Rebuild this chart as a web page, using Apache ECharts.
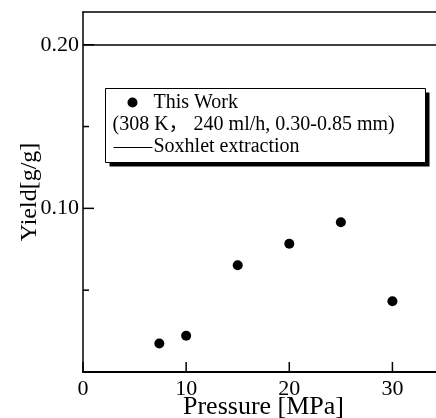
<!DOCTYPE html>
<html>
<head>
<meta charset="utf-8">
<script src="https://cdn.jsdelivr.net/npm/echarts@6/dist/echarts.min.js"></script>
<style>
  html, body { margin: 0; padding: 0; background: #fff; }
  #yield-chart { width: 436px; height: 418px; }
</style>
</head>
<body>
<div id="yield-chart"></div>
<script>
// pressure [MPa] / yield [g/g]
var pressure = [7.4, 10, 15, 20, 25, 30];
var yieldValue = [0.0174, 0.0222, 0.0652, 0.0784, 0.0915, 0.0432];
var soxhletYield = 0.198;
var xTicks = [0, 10, 20, 30];
var yTicks = [0.10, 0.20];
var yMinorTicks = [0.05, 0.15];

var serif = "'Liberation Serif', 'Times New Roman', serif";
var legendFont = "20px 'Liberation Serif', 'Noto Sans CJK SC', serif";

var chart = echarts.init(document.getElementById('yield-chart'));

var points = pressure.map(function (p, i) { return [p, yieldValue[i]]; });

var option = {
  backgroundColor: '#fff',
  animation: false,
  grid: {
    left: 83,
    top: 12,
    right: -8,
    bottom: 46,
    show: false,
    outerBoundsMode: 'none'
  },
  xAxis: [{
    type: 'value',
    min: 0,
    max: 35,
    name: 'Pressure [MPa]',
    nameLocation: 'middle',
    nameGap: 22,
    nameMoveOverlap: false,
    nameTextStyle: { fontFamily: serif, fontSize: 26, color: '#000' },
    axisLine: { show: true, onZero: false, lineStyle: { color: '#000', width: 2 } },
    axisTick: { show: false },
    axisLabel: {
      fontFamily: serif, fontSize: 22, color: '#000', margin: 6,
      customValues: xTicks
    },
    splitLine: { show: false }
  }, {
    // top frame line
    type: 'value',
    min: 0,
    max: 35,
    position: 'top',
    axisLine: { show: true, onZero: false, lineStyle: { color: '#000', width: 1.5 } },
    axisTick: { show: false },
    axisLabel: { show: false },
    splitLine: { show: false }
  }],
  yAxis: {
    type: 'value',
    min: 0,
    max: 0.22,
    name: 'Yield[g/g]',
    nameLocation: 'middle',
    nameGap: 41,
    nameMoveOverlap: false,
    nameTextStyle: { fontFamily: serif, fontSize: 24, color: '#000' },
    axisLine: { show: true, onZero: false, lineStyle: { color: '#000', width: 1.5 } },
    axisTick: { show: false },
    axisLabel: {
      fontFamily: serif, fontSize: 22, color: '#000', margin: 4,
      customValues: yTicks,
      formatter: function (v) { return v.toFixed(2); }
    },
    splitLine: { show: false }
  },
  series: [{
    name: 'This Work',
    type: 'scatter',
    data: points,
    symbol: 'circle',
    symbolSize: 10,
    itemStyle: { color: '#000', opacity: 1 },
    silent: true
  }, {
    name: 'Soxhlet extraction',
    type: 'line',
    data: [],
    markLine: {
      silent: true,
      symbol: 'none',
      label: { show: false },
      lineStyle: { color: '#000', width: 1.5, type: 'solid' },
      data: [{ yAxis: soxhletYield }]
    }
  }]
};

chart.setOption(option);

// inward ticks, placed through the axis scales
function drawTicks() {
  var x0 = chart.convertToPixel({ xAxisIndex: 0 }, 0);
  var y0 = chart.convertToPixel({ yAxisIndex: 0 }, 0);
  var els = [];
  xTicks.forEach(function (v) {
    var px = chart.convertToPixel({ xAxisIndex: 0 }, v);
    els.push({ type: 'line', shape: { x1: px, y1: y0, x2: px, y2: y0 - 10 }, style: { stroke: '#000', lineWidth: 1.5 }, silent: true });
  });
  yTicks.forEach(function (v) {
    var py = chart.convertToPixel({ yAxisIndex: 0 }, v);
    els.push({ type: 'line', shape: { x1: x0, y1: py, x2: x0 + 11, y2: py }, style: { stroke: '#000', lineWidth: 1.5 }, silent: true });
  });
  yMinorTicks.forEach(function (v) {
    var py = chart.convertToPixel({ yAxisIndex: 0 }, v);
    els.push({ type: 'line', shape: { x1: x0, y1: py, x2: x0 + 6, y2: py }, style: { stroke: '#000', lineWidth: 1.5 }, silent: true });
  });
  return els;
}

var legendBox = {
  type: 'group',
  left: 105,
  top: 88,
  children: [
    { type: 'rect', shape: { x: 4, y: 4, width: 320, height: 74 }, style: { fill: '#000' } },
    { type: 'rect', shape: { x: 0, y: 0, width: 320, height: 74 }, style: { fill: '#fff', stroke: '#000', lineWidth: 1 } },
    { type: 'circle', shape: { cx: 27, cy: 14, r: 5 }, style: { fill: '#000' } },
    { type: 'text', x: 48, y: 14, style: { text: 'This Work', font: legendFont, fill: '#000', verticalAlign: 'middle' } },
    { type: 'text', x: 7, y: 36, style: { text: '(308 K， 240 ml/h, 0.30-0.85 mm)', font: legendFont, fill: '#000', verticalAlign: 'middle' } },
    { type: 'line', shape: { x1: 8, y1: 59, x2: 47, y2: 59 }, style: { stroke: '#000', lineWidth: 1.2 } },
    { type: 'text', x: 48, y: 58, style: { text: 'Soxhlet extraction', font: legendFont, fill: '#000', verticalAlign: 'middle' } }
  ]
};

chart.setOption({ graphic: [legendBox].concat(drawTicks()) });

window.addEventListener('resize', function () {
  chart.resize();
  chart.setOption({ graphic: [legendBox].concat(drawTicks()) }, { replaceMerge: ['graphic'] });
});
</script>
</body>
</html>
